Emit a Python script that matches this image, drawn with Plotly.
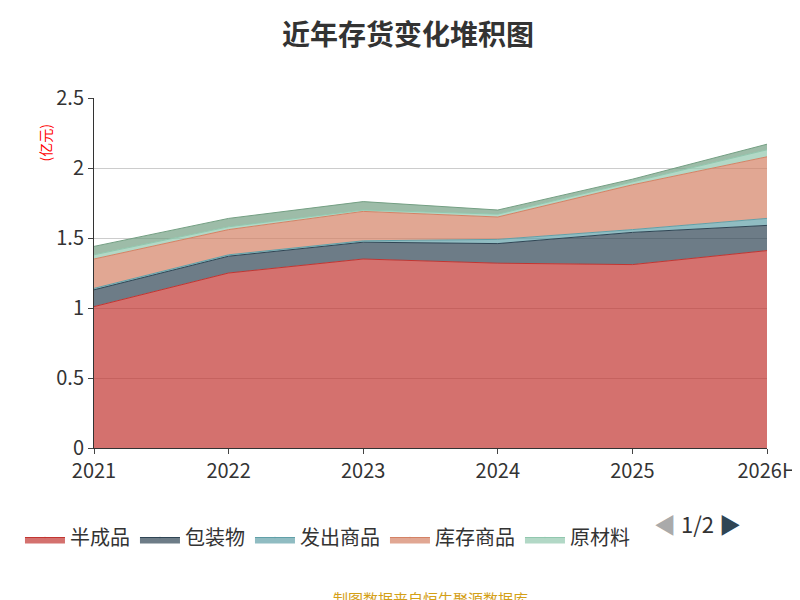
import plotly.graph_objects as go

years = ["2021", "2022", "2023", "2024", "2025", "2026H"]
names = ["半成品", "包装物", "发出商品", "库存商品", "原材料", "周转材料"]
colors = ["#c23531", "#2f4554", "#61a0a8", "#d48265", "#91c7ae", "#749f83"]
s1 = [1.01, 1.25, 1.35, 1.32, 1.31, 1.41]
s2 = [0.12, 0.12, 0.12, 0.14, 0.23, 0.18]
s3 = [0.01, 0.01, 0.01, 0.03, 0.02, 0.05]
s4 = [0.21, 0.18, 0.21, 0.16, 0.32, 0.44]
s5 = [0.03, 0.02, 0.01, 0.02, 0.02, 0.05]
s6 = [0.06, 0.06, 0.06, 0.03, 0.02, 0.04]
series = [s1, s2, s3, s4, s5, s6]

def rgba(h, a):
    h = h.lstrip("#")
    return "rgba(%d,%d,%d,%s)" % (int(h[0:2], 16), int(h[2:4], 16), int(h[4:6], 16), a)

fig = go.Figure()
for i, (n, c, v) in enumerate(zip(names, colors, series)):
    fig.add_trace(go.Scatter(
        x=years, y=v, name=n, stackgroup="one", mode="lines+markers",
        marker=dict(size=1, opacity=0),
        line=dict(color=c, width=1), fillcolor=rgba(c, 0.7),
        showlegend=i < 5,
    ))

fig.update_layout(
    width=800, height=600, plot_bgcolor="white", paper_bgcolor="white",
    font=dict(family="Noto Sans CJK SC", color="#333"),
    title=dict(text="<b>近年存货变化堆积图</b>", x=0.5, y=0.955, xanchor="center",
               yanchor="middle", font=dict(size=28, color="#333")),
    margin=dict(l=75, r=32, t=90, b=160),
    xaxis=dict(type="category", range=[0, 5], showgrid=False, showline=True,
               linecolor="#333", ticks="outside", tickfont=dict(size=20), ticklen=5),
    yaxis=dict(range=[0, 2.5], dtick=0.5, showgrid=True, gridcolor="#ccc",
               showline=True, linecolor="#333", ticks="outside", tickfont=dict(size=20),
               zeroline=False),
    legend=dict(orientation="h", x=-0.11, y=-0.2, xanchor="left", yanchor="top",
                traceorder="normal", font=dict(size=20), itemwidth=40),
    annotations=[
        dict(text="(亿元)", x=-0.09, y=0.93, xref="paper", yref="paper", showarrow=False,
             textangle=-90, font=dict(color="red", size=14)),
        dict(text="◀ <span style='color:#333'>1/2</span> <span style='color:#2f4554'>▶</span>",
             x=0.965, y=-0.265, xref="paper", yref="paper", showarrow=False,
             font=dict(size=22, color="#aaa")),
        dict(text="制图数据来自恒生聚源数据库", x=0.5, y=-0.43, xref="paper", yref="paper",
             xanchor="center", yanchor="middle", showarrow=False,
             font=dict(size=15, color="#d4a017")),
    ],
)
fig.write_html("out.html")
